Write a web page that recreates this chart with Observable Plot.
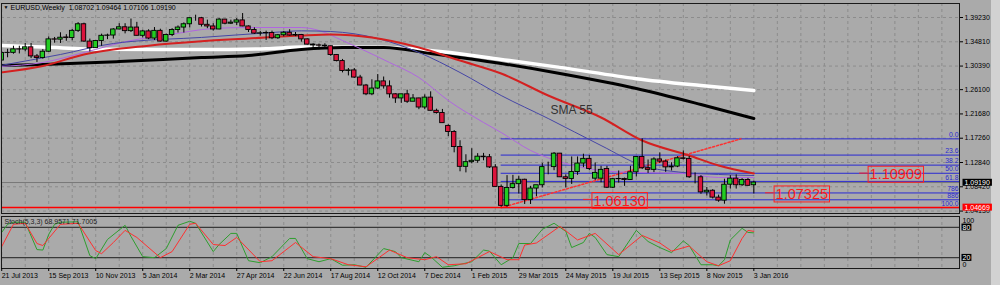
<!DOCTYPE html>
<html><head><meta charset="utf-8">
<script src="https://cdn.jsdelivr.net/npm/d3@7"></script>
<script src="https://cdn.jsdelivr.net/npm/@observablehq/plot@0.6"></script>
<style>
html,body{margin:0;padding:0;background:#aaaaaa;overflow:hidden}
#wrap{position:relative;width:1000px;height:285px;background:#aaaaaa}
#wrap svg{position:absolute;left:0;overflow:visible}
#strip{position:absolute;left:991px;top:0;width:9px;height:285px;background:#d2d2d2}
</style></head><body><div id="wrap"><div id="strip"></div></div>
<script>
// ---------- data ----------
const symbol = "EURUSD", period = "Weekly";
// weekly candles, week 0 = 21 Jul 2013 ... week 128 = 3 Jan 2016
const open = [1.3140,1.3277,1.3280,1.3343,1.3340,1.3380,1.3215,1.3185,1.3300,1.3525,1.3520,1.3560,1.3550,1.3680,1.3800,1.3485,1.3365,1.3495,1.3590,1.3595,1.3705,1.3745,1.3675,1.3740,1.3590,1.3670,1.3540,1.3680,1.3485,1.3605,1.3695,1.3740,1.3800,1.3910,1.3910,1.3790,1.3760,1.3705,1.3885,1.3810,1.3830,1.3870,1.3760,1.3695,1.3630,1.3635,1.3640,1.3545,1.3600,1.3645,1.3595,1.3605,1.3525,1.3430,1.3415,1.3410,1.3400,1.3240,1.3130,1.2950,1.2960,1.2830,1.2685,1.2525,1.2630,1.2760,1.2670,1.2525,1.2450,1.2525,1.2390,1.2450,1.2285,1.2465,1.2225,1.2185,1.1950,1.1840,1.1565,1.1205,1.1290,1.1315,1.1390,1.1380,1.1195,1.0840,1.0495,1.0820,1.0890,1.0970,1.0600,1.0810,1.0870,1.1200,1.1200,1.1445,1.1015,1.0985,1.1110,1.1265,1.1350,1.0990,1.0990,1.1165,1.0825,1.0980,1.0985,1.0965,1.1105,1.1385,1.1180,1.1150,1.1340,1.1300,1.1195,1.1210,1.1360,1.1350,1.1015,1.1015,1.0740,1.0770,1.0645,1.0590,1.0880,1.0990,1.0870,1.0965,1.08702];
const high = [1.3300,1.3345,1.3400,1.3400,1.3450,1.3450,1.3250,1.3340,1.3570,1.3560,1.3645,1.3610,1.3705,1.3830,1.3820,1.3530,1.3500,1.3620,1.3620,1.3720,1.3810,1.3810,1.3895,1.3835,1.3690,1.3700,1.3740,1.3710,1.3620,1.3720,1.3770,1.3825,1.3915,1.3965,1.3925,1.3875,1.3810,1.3905,1.3890,1.3875,1.3905,1.3995,1.3770,1.3735,1.3670,1.3675,1.3675,1.3615,1.3670,1.3700,1.3650,1.3615,1.3535,1.3445,1.3440,1.3445,1.3405,1.3250,1.3160,1.2995,1.2995,1.2870,1.2705,1.2790,1.2885,1.2840,1.2770,1.2535,1.2510,1.2600,1.2520,1.2455,1.2515,1.2570,1.2255,1.2250,1.1970,1.1865,1.1680,1.1425,1.1535,1.1445,1.1450,1.1430,1.1245,1.0875,1.1045,1.1050,1.1035,1.0980,1.0850,1.0850,1.1270,1.1290,1.1465,1.1450,1.1060,1.1385,1.1385,1.1435,1.1410,1.1275,1.1215,1.1215,1.0990,1.1130,1.1000,1.1215,1.1390,1.1715,1.1330,1.1370,1.1460,1.1330,1.1280,1.1390,1.1495,1.1395,1.1095,1.1045,1.0830,1.0790,1.0690,1.0980,1.1045,1.1060,1.0990,1.0995,1.09464];
const low = [1.3135,1.3190,1.3255,1.3260,1.3300,1.3175,1.3105,1.3165,1.3290,1.3455,1.3450,1.3490,1.3500,1.3650,1.3470,1.3295,1.3360,1.3400,1.3520,1.3530,1.3700,1.3625,1.3650,1.3585,1.3550,1.3520,1.3505,1.3475,1.3475,1.3575,1.3640,1.3640,1.3735,1.3855,1.3750,1.3720,1.3675,1.3700,1.3790,1.3795,1.3775,1.3755,1.3650,1.3615,1.3585,1.3505,1.3520,1.3525,1.3570,1.3585,1.3575,1.3475,1.3420,1.3365,1.3335,1.3350,1.3215,1.3115,1.2915,1.2860,1.2815,1.2680,1.2500,1.2500,1.2615,1.2620,1.2455,1.2360,1.2360,1.2360,1.2390,1.2245,1.2245,1.2220,1.2165,1.2000,1.1755,1.1460,1.1115,1.1095,1.1260,1.1270,1.1315,1.1175,1.0840,1.0465,1.0460,1.0800,1.0710,1.0520,1.0520,1.0660,1.0820,1.1060,1.1135,1.1010,1.0820,1.0885,1.1050,1.1190,1.1135,1.0955,1.0915,1.0810,1.0810,1.0910,1.0850,1.0960,1.1020,1.1155,1.1085,1.1100,1.1265,1.1105,1.1130,1.1190,1.1330,1.0995,1.0895,1.0705,1.0675,1.0620,1.0560,1.0525,1.0800,1.0800,1.0850,1.0855,1.07106];
const close = [1.3277,1.3280,1.3343,1.3340,1.3380,1.3215,1.3185,1.3300,1.3525,1.3520,1.3555,1.3550,1.3680,1.3800,1.3485,1.3365,1.3495,1.3590,1.3595,1.3705,1.3745,1.3675,1.3740,1.3590,1.3670,1.3540,1.3680,1.3485,1.3605,1.3695,1.3740,1.3800,1.3910,1.3910,1.3790,1.3760,1.3705,1.3885,1.3810,1.3830,1.3870,1.3760,1.3695,1.3630,1.3635,1.3640,1.3545,1.3600,1.3645,1.3595,1.3605,1.3525,1.3430,1.3415,1.3410,1.3400,1.3240,1.3130,1.2950,1.2960,1.2830,1.2685,1.2525,1.2630,1.2760,1.2670,1.2525,1.2450,1.2525,1.2390,1.2450,1.2285,1.2465,1.2225,1.2185,1.2000,1.1840,1.1565,1.1205,1.1290,1.1315,1.1390,1.1380,1.1195,1.0840,1.0495,1.0820,1.0890,1.0970,1.0600,1.0810,1.0870,1.1200,1.1200,1.1445,1.1015,1.0985,1.1110,1.1265,1.1350,1.1165,1.1095,1.1150,1.0825,1.0980,1.0985,1.0965,1.1105,1.1385,1.1180,1.1150,1.1340,1.1300,1.1195,1.1210,1.1360,1.1350,1.1015,1.1015,1.0740,1.0770,1.0645,1.0590,1.0880,1.0990,1.0870,1.0965,1.0860,1.09190];

// moving averages: [week, price]
const smaWhite = [[-0.25,1.3413],[7,1.3385],[17,1.3345],[34,1.3340],[45,1.3355],[51,1.3385],[64,1.3380],[75,1.3300],[85,1.3160],[95,1.3015],[108,1.2810],[119,1.2685],[128,1.2594]];
const smaBlack = [[-0.25,1.3049],[7,1.3068],[20,1.3122],[34,1.3195],[42,1.3232],[51,1.3341],[58,1.3377],[65,1.3377],[73,1.3268],[85,1.3086],[95,1.2904],[108,1.2631],[119,1.2340],[128,1.2085]];
const sma55 = [[-0.25,1.2922],[7,1.3040],[14,1.3250],[25,1.3410],[34,1.3490],[42,1.3540],[51,1.3595],[56,1.3614],[63,1.3559],[71,1.3377],[78,1.3140],[85,1.2904],[93,1.2503],[102,1.2103],[109,1.1684],[117,1.1411],[122,1.1229],[128,1.1084]];
const smaBlue = [[-0.25,1.3049],[10,1.3250],[19,1.3450],[22,1.3486],[34,1.3560],[46,1.3650],[51,1.3680],[56,1.3668],[64,1.3541],[71,1.3286],[78,1.2922],[85,1.2503],[93,1.2085],[102,1.1593],[109,1.1229],[116,1.1102],[122,1.1066],[128,1.1047]];
const smaPurple = [[-0.25,1.3031],[7,1.3104],[14,1.3286],[22,1.3504],[28,1.3600],[36,1.3723],[42,1.3741],[51,1.3741],[54,1.3686],[58,1.3504],[61,1.3359],[66,1.3104],[71,1.2831],[76,1.2412],[82,1.2012],[85,1.1830],[90,1.1503],[96,1.1266],[102,1.1138],[108,1.1102],[116,1.1084],[122,1.1011],[128,1.1011]];

// Fibonacci retracement
const fibLabels = ["0.0","23.6","38.2","50.0","61.8","786","886","100.0"];
const fibPrices = [1.1714,1.1419,1.1236,1.1088,1.0940,1.0730,1.0605,1.0462];
const fibStartWeek = 85;
const fibTrend = [[85,1.0462],[125.8,1.1714]];

// horizontal lines and labels
const redLevel = 1.04669;
const bidPrice = 1.09190;
const priceMarkers = [{week:99, price:1.06130},{week:130, price:1.07325},{week:146, price:1.10909}];
const notes = [{week:93.4, price:1.2230, text:"SMA 55"}];

// axes
const priceTicks = [1.3923,1.3481,1.3039,1.2610,1.2168,1.1726,1.1284,1.0842,1.0400];
const priceTickLabels = ["1.39230","1.34810","1.30390","1.26100","1.21680","1.17260","1.12840","1.08420","1.04130"];
const dateTickWeeks = [0,8,16,24,32,40,48,56,64,72,80,88,96,104,112,120,128];
const dateTickLabels = ["21 Jul 2013","15 Sep 2013","10 Nov 2013","5 Jan 2014","2 Mar 2014","27 Apr 2014","22 Jun 2014","17 Aug 2014","12 Oct 2014","7 Dec 2014","1 Feb 2015","29 Mar 2015","24 May 2015","19 Jul 2015","13 Sep 2015","8 Nov 2015","3 Jan 2016"];

// stochastic (5,3,3): [week, value]
const stochK = [[0,70],[1,86],[2,90],[4,90],[6,36],[7,35],[8,66],[9,86],[10,90],[13,91],[15,24],[16,18],[18,56],[21,84],[22,62],[24,22],[26,20],[28,38],[30,84],[32,92],[33,88],[36,32],[37,46],[39,68],[40,68],[42,14],[44,10],[46,22],[49,58],[50,58],[52,18],[54,12],[56,18],[58,5],[60,6],[62,1],[65,38],[67,32],[68,20],[71,12],[72,30],[73,22],[75,1],[77,4],[80,12],[82,35],[83,33],[85,6],[87,20],[88,48],[90,48],[92,76],[94,88],[96,72],[97,40],[99,50],[100,68],[101,60],[103,26],[105,22],[108,74],[110,52],[112,40],[114,30],[116,53],[117,44],[119,6],[121,6],[122,4],[123,16],[124,55],[126,78],[127,70],[128,69]];
const stochD = [[0,42],[2,86],[4,88],[6,48],[7,44],[10,86],[13,88],[16,34],[17,28],[19,50],[21,74],[23,60],[27,20],[29,32],[32,86],[33,88],[36,46],[38,44],[40,60],[44,12],[46,14],[50,50],[53,22],[56,18],[59,6],[62,2],[66,35],[69,20],[72,16],[74,22],[76,6],[79,8],[83,32],[86,16],[88,16],[89,45],[91,49],[95,82],[98,55],[101,68],[105,26],[109,64],[112,49],[114,33],[117,43],[120,12],[122,4],[124,14],[126,58],[127,74],[128,72]];
const stochLevels = [20, 80];
const stochLast = [68.9571, 71.7005];

// ---------- build ----------
const candles = open.map((o, i) => ({i, o, h: high[i], l: low[i], c: close[i]}));
const bulls = candles.filter(d => d.c >= d.o), bears = candles.filter(d => d.c < d.o);
const X0 = -0.035, X1 = 163.0;
const gridWeeks = d3.range(0, 161, 4);
const bull = "#22cc22", bear = "#dc143c", gridC = "#8c8c8c", fibC = "#2a2ad2";
const font = "'Liberation Sans', Arial, sans-serif";
const tickLabel = new Map(priceTicks.map((v, i) => [v, priceTickLabels[i]]));
const dateLabel = new Map(dateTickWeeks.map((v, i) => [v, dateTickLabels[i]]));
const last = candles[candles.length - 1];
const title = `${symbol},${period}\u00a0 ${last.o.toFixed(5)} ${last.h.toFixed(5)} ${last.l.toFixed(5)} ${last.c.toFixed(5)}`;
const pt = {x: d => d[0], y: d => d[1]};

const main = Plot.plot({
  width: 1000, height: 213, marginLeft: 1, marginRight: 41, marginTop: 3, marginBottom: 0,
  style: {background: "transparent", fontFamily: font, fontSize: "7px", color: "#000", overflow: "visible"},
  x: {domain: [X0, X1], axis: null},
  y: {domain: [1.03558, 1.41778], axis: null},
  marks: [
    Plot.ruleX(gridWeeks, {stroke: gridC, strokeDasharray: "3,3"}),
    Plot.ruleY(priceTicks, {stroke: gridC, strokeDasharray: "3,3"}),
    Plot.ruleY([bidPrice], {stroke: "#777777"}),
    Plot.ruleY(fibPrices, {x1: fibStartWeek, x2: X1, stroke: fibC, strokeWidth: 1}),
    Plot.text(fibPrices, {x: X1, y: d => d, text: (d, i) => fibLabels[i], textAnchor: "end", dx: -1, dy: -4, fill: fibC, fontSize: 6.8}),
    Plot.line(fibTrend, {...pt, stroke: "#ff3030", strokeDasharray: "2,2"}),
    Plot.line(smaWhite, {...pt, stroke: "#ffffff", strokeWidth: 3.5, curve: "monotone-x", clip: true}),
    Plot.line(smaBlack, {...pt, stroke: "#000000", strokeWidth: 3, curve: "monotone-x", clip: true}),
    Plot.line(smaPurple, {...pt, stroke: "#b066e0", strokeWidth: 1, curve: "monotone-x", clip: true}),
    Plot.line(smaBlue, {...pt, stroke: "#4646a6", strokeWidth: 1, curve: "monotone-x", clip: true}),
    Plot.line(sma55, {...pt, stroke: "#d42020", strokeWidth: 2, curve: "monotone-x", clip: true}),
    Plot.ruleX(candles, {x: "i", y1: "l", y2: "h", stroke: "#000", strokeWidth: 1, clip: true}),
    Plot.rect(bulls, {x1: d => d.i - 0.38, x2: d => d.i + 0.38, y1: "o", y2: "c", fill: bull, stroke: "#000", strokeWidth: 0.9, clip: true}),
    Plot.rect(bears, {x1: d => d.i - 0.38, x2: d => d.i + 0.38, y1: "o", y2: "c", fill: bear, stroke: "#000", strokeWidth: 0.9, clip: true}),
    Plot.ruleY([redLevel], {stroke: "#ff0000", strokeWidth: 1.5}),
    Plot.ruleY(priceMarkers, {y: "price", x1: "week", x2: d => d.week + 1.4, stroke: "#ff2020"}),
    Plot.text(priceMarkers, {x: "week", y: "price", text: d => d.price.toFixed(5), textAnchor: "start", dx: 10, dy: 1.5, fill: "#ff1a1a", fontSize: 14.5}),
    Plot.text(notes, {x: "week", y: "price", text: "text", textAnchor: "start", fill: "#333333", fontSize: 12}),
    Plot.frame({stroke: "#1a1a1a"}),
    Plot.axisY(priceTicks, {anchor: "right", tickSize: 3, tickPadding: 2, tickFormat: d => tickLabel.get(d), fontSize: 7, stroke: "#000", fill: "#000"}),
    Plot.text([bidPrice], {x: X1, y: d => d, text: d => d.toFixed(5), textAnchor: "start", dx: 5, fill: "#ffffff", fontSize: 7}),
    Plot.text([redLevel], {x: X1, y: d => d, text: d => d.toFixed(5), textAnchor: "start", dx: 5, fill: "#ffffff", fontSize: 7}),
    Plot.text([title], {frameAnchor: "top-left", dx: 9, dy: 1.5, fill: "#000", fontSize: 7}),
    Plot.text(["\u25BC"], {frameAnchor: "top-left", dx: 2, dy: 2, fill: "#000", fontSize: 5})
  ]
});

const stoch = Plot.plot({
  width: 1000, height: 71, marginLeft: 1, marginRight: 41, marginTop: 2, marginBottom: 17,
  style: {background: "transparent", fontFamily: font, fontSize: "7px", color: "#000", overflow: "visible"},
  x: {domain: [X0, X1], axis: null},
  y: {domain: [-1.4, 101.4], axis: null},
  marks: [
    Plot.ruleX(gridWeeks, {stroke: gridC, strokeDasharray: "3,3"}),
    Plot.ruleY(stochLevels, {stroke: "#3a3a3a", strokeWidth: 1.2}),
    Plot.line(stochK, {...pt, stroke: "#2e9e2e", strokeWidth: 1, clip: true}),
    Plot.line(stochD, {...pt, stroke: "#ff3030", strokeWidth: 1, clip: true}),
    Plot.frame({stroke: "#1a1a1a"}),
    Plot.axisX(dateTickWeeks, {anchor: "bottom", tickSize: 3, tickPadding: 2, tickFormat: d => dateLabel.get(d), textAnchor: "start", dx: 0, fontSize: 7, stroke: "#000", fill: "#000"}),
    Plot.text(stochLevels, {x: X1, y: d => d, text: d => String(d), textAnchor: "start", dx: 3, fill: "#ffffff", fontSize: 7}),
    Plot.text([100], {x: X1, y: d => d, text: d => String(d), textAnchor: "start", dx: 3, dy: 3.5, fill: "#000", fontSize: 7}),
    Plot.text([0], {x: X1, y: d => d, text: d => String(d), textAnchor: "start", dx: 3, dy: -3, fill: "#000", fontSize: 7}),
    Plot.text([`Stoch(5,3,3) ${stochLast[0]} ${stochLast[1]}`], {frameAnchor: "top-left", dx: 3, dy: 2.5, fill: "#222", fontSize: 7})
  ]
});

const wrap = document.getElementById("wrap");
main.style.top = "0px"; stoch.style.top = "214px";
wrap.appendChild(main); wrap.appendChild(stoch);

// draw label boxes behind the texts that Plot placed
function boxTexts(svg, strings, fill, stroke, padX, padY) {
  const set = new Set(strings);
  svg.querySelectorAll("text").forEach(t => {
    if (!set.has(t.textContent) || t.closest("g[aria-label='y-axis tick label']")) return;
    const b = t.getBBox();
    const r = document.createElementNS("http://www.w3.org/2000/svg", "rect");
    r.setAttribute("x", b.x - padX); r.setAttribute("y", b.y - padY);
    r.setAttribute("width", b.width + 2 * padX); r.setAttribute("height", b.height + 2 * padY);
    r.setAttribute("fill", fill); r.setAttribute("stroke", stroke);
    const tr = t.getAttribute("transform"); if (tr) r.setAttribute("transform", tr);
    t.parentNode.insertBefore(r, t);
  });
}
boxTexts(main, [bidPrice.toFixed(5)], "#000", "none", 2, 0);
boxTexts(main, [redLevel.toFixed(5)], "#ff0000", "none", 2, 0);
boxTexts(main, priceMarkers.map(d => d.price.toFixed(5)), "none", "#ff2020", 1.5, 0);
boxTexts(stoch, stochLevels.map(String), "#000", "none", 1, 0);
</script></body></html>
